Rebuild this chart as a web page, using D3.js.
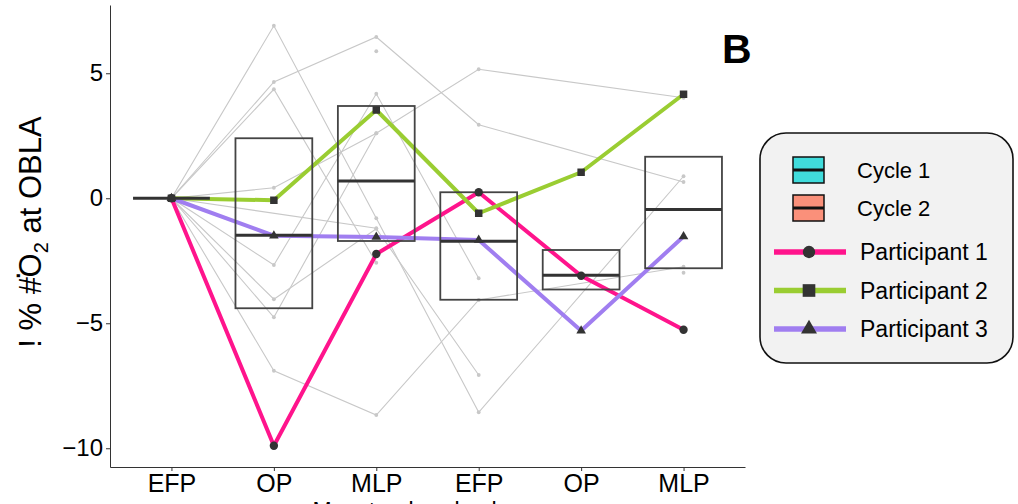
<!DOCTYPE html>
<meta charset="utf-8">
<title>Change in VO2 at OBLA</title>
<style>
body { margin: 0; background: #fff; }
svg text { font-family: "Liberation Sans", Arial, sans-serif; }
.axis path, .axis line { stroke: #333; }
.axis text { fill: #000; font-size: 24px; }
.axis.xax text { font-size: 25px; }
</style>
<body>
<script src="https://d3js.org/d3.v7.min.js"></script>
<script>

// phases on the x axis (positions 1..6)
var phases = ["EFP", "OP", "MLP", "EFP", "OP", "MLP"];
var yTicks = [-10, -5, 0, 5];

// other participants (grey), null = missing
var grey1 = [0, 6.9, -0.8, -8.56, null, 0.88];
var grey2 = [0, 4.65, 6.45, 2.94, null, 0.65];
var grey3 = [0, 4.36, -2.58, null, null, null];
var grey4 = [0, 0.42, 2.6, 5.16, null, 4.02];
var grey5 = [0, -2.67, 4.18, -3.2, null, null];
var grey6 = [0, -4.04, -1.22, -7.07, null, null];
var grey7 = [0, -4.76, 2.6, null, null, null];
var grey8 = [0, -6.9, -8.67, -4.07, null, -2.74];
var grey9 = [0, null, -1.2, null, null, null];
var grey10 = [null, null, 5.88, null, null, null];
var grey11 = [null, null, null, null, null, -2.98];

// highlighted participants
var participantNames = ["Participant 1", "Participant 2", "Participant 3"];
var p1 = [0, -9.9, -2.23, 0.24, -3.1, -5.26];
var p2 = [0, -0.08, 3.53, -0.6, 1.04, 4.16];
var p3 = [0, -1.5, -1.55, -1.67, -5.3, -1.53];

// crossbars per phase
var boxLower = [0, -4.4, -1.71, -4.06, -3.65, -2.8];
var boxMid = [0, -1.48, 0.69, -1.72, -3.08, -0.45];
var boxUpper = [0, 2.4, 3.69, 0.24, -2.07, 1.66];

var cycleNames = ["Cycle 1", "Cycle 2"];

var width = 1018, height = 504;
var greys = [grey1, grey2, grey3, grey4, grey5, grey6, grey7, grey8, grey9, grey10, grey11];
var parts = [p1, p2, p3];
var partColors = ["#ff148c", "#9acd32", "#a07ef0"];
var partShapes = [d3.symbolCircle, d3.symbolSquare, d3.symbolTriangle];
var cycleColors = ["#40dcdc", "#fa907a"];

var svg = d3.select("body").append("svg")
    .attr("width", width)
    .attr("height", height);

var x = d3.scaleLinear().domain([0.4, 6.6]).range([110, 745]);
var y = d3.scaleLinear().domain([-10.75, 7.73]).range([467, 5]);

function pts(arr) {
  var out = [];
  arr.forEach(function(v, i) { if (v !== null) out.push([i + 1, v]); });
  return out;
}

var line = d3.line()
    .x(function(d) { return x(d[0]); })
    .y(function(d) { return y(d[1]); });

// grey participants
var gG = svg.append("g");
greys.forEach(function(g) {
  var p = pts(g);
  if (p.length > 1)
    gG.append("path").attr("d", line(p))
      .attr("fill", "none").attr("stroke", "#c8c8c8").attr("stroke-width", 1.1);
  gG.selectAll(null).data(p).enter().append("circle")
    .attr("cx", function(d) { return x(d[0]); })
    .attr("cy", function(d) { return y(d[1]); })
    .attr("r", 1.9).attr("fill", "#c8c8c8");
});

// coloured participant lines
parts.forEach(function(p, k) {
  svg.append("path").attr("d", line(pts(p)))
    .attr("fill", "none").attr("stroke", partColors[k])
    .attr("stroke-width", 4).attr("stroke-linejoin", "round");
});

// crossbars
var bw = (x(2) - x(1)) * 0.75;
var gB = svg.append("g");
phases.forEach(function(ph, i) {
  var cx = x(i + 1);
  gB.append("rect")
    .attr("x", cx - bw / 2).attr("width", bw)
    .attr("y", y(boxUpper[i])).attr("height", y(boxLower[i]) - y(boxUpper[i]))
    .attr("fill", "none").attr("stroke", "#444").attr("stroke-width", 1.8);
  gB.append("line")
    .attr("x1", cx - bw / 2).attr("x2", cx + bw / 2)
    .attr("y1", y(boxMid[i])).attr("y2", y(boxMid[i]))
    .attr("stroke", "#333").attr("stroke-width", 3);
});

// markers
var symSize = [55, 56, 40];
parts.forEach(function(p, k) {
  svg.selectAll(null).data(pts(p)).enter().append("path")
    .attr("d", d3.symbol().type(partShapes[k]).size(symSize[k]))
    .attr("transform", function(d) { return "translate(" + x(d[0]) + "," + y(d[1]) + ")"; })
    .attr("fill", "#333");
});

// axes
svg.append("g").attr("class", "axis")
  .attr("transform", "translate(110,0)")
  .call(d3.axisLeft(y).tickValues(yTicks).tickSize(4).tickPadding(3).tickSizeOuter(0));

svg.append("g").attr("class", "axis xax")
  .attr("transform", "translate(0,467)")
  .call(d3.axisBottom(x).tickValues([1, 2, 3, 4, 5, 6])
    .tickFormat(function(d) { return phases[d - 1]; })
    .tickSize(4).tickPadding(3).tickSizeOuter(0));

// axis titles
var yt = svg.append("text")
  .attr("transform", "translate(41,232) rotate(-90)")
  .attr("text-anchor", "middle")
  .style("font-size", "31px");
yt.append("tspan").text("! % #");
yt.append("tspan").attr("dx", -3).attr("dy", -21).text(".");
yt.append("tspan").attr("dx", -6).attr("dy", 21).text("O");
yt.append("tspan").attr("dy", 7).style("font-size", "20px").text("2");
yt.append("tspan").attr("dy", -7).text(" at OBLA");

svg.append("text")
  .attr("x", 427).attr("y", 519)
  .attr("text-anchor", "middle")
  .style("font-size", "23px")
  .text("Menstrual cycle phase");

svg.append("text")
  .attr("x", 722).attr("y", 63)
  .attr("textLength", 25)
  .style("font-size", "41px").style("font-weight", "bold")
  .text("B");

// legend
var lg = svg.append("g");
lg.append("rect")
  .attr("x", 760).attr("y", 133).attr("width", 253).attr("height", 230)
  .attr("rx", 26).attr("ry", 26)
  .attr("fill", "#f2f2f2").attr("stroke", "#111").attr("stroke-width", 1.6);

cycleNames.forEach(function(c, i) {
  var cy = 170 + i * 38;
  lg.append("rect")
    .attr("x", 793).attr("y", cy - 13).attr("width", 31).attr("height", 26)
    .attr("fill", cycleColors[i]).attr("stroke", "#111").attr("stroke-width", 1.5);
  lg.append("line")
    .attr("x1", 793).attr("x2", 824).attr("y1", cy).attr("y2", cy)
    .attr("stroke", "#111").attr("stroke-width", 3);
  lg.append("text")
    .attr("x", 857).attr("y", cy).attr("dy", "0.36em")
    .style("font-size", "22px")
    .text(c);
});

var legSize = [120, 160, 110];
participantNames.forEach(function(n, k) {
  var cy = 252 + k * 38.5;
  lg.append("line")
    .attr("x1", 774).attr("x2", 846).attr("y1", cy).attr("y2", cy)
    .attr("stroke", partColors[k]).attr("stroke-width", 5.5);
  lg.append("path")
    .attr("d", d3.symbol().type(partShapes[k]).size(legSize[k]))
    .attr("transform", "translate(809," + cy + ")")
    .attr("fill", "#333");
  lg.append("text")
    .attr("x", 860).attr("y", cy).attr("dy", "0.36em")
    .style("font-size", "23px")
    .text(n);
});

</script>
